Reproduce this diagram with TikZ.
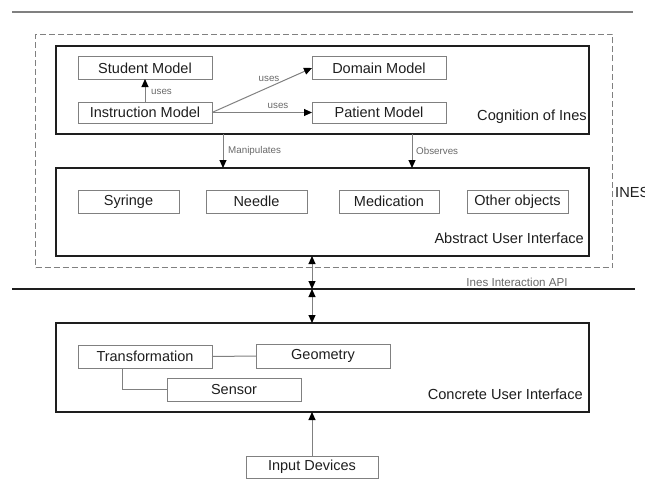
\documentclass[tikz,border=0pt]{standalone}
\usepackage{fontspec}
\setmainfont{Liberation Sans}
\usetikzlibrary{arrows.meta}
\definecolor{boxgray}{RGB}{128,128,128}
\definecolor{labgray}{RGB}{105,105,105}
\definecolor{ink}{RGB}{30,30,30}
\begin{document}
\begin{tikzpicture}[x=1pt,y=-1pt,
  inbox/.style={draw=boxgray, line width=1pt, inner sep=0pt, outer sep=0pt,
    minimum width=134pt, minimum height=22pt, text=ink,
    font=\fontsize{14.5}{16}\selectfont},
  outbox/.style={draw=ink, line width=1.4pt, inner sep=0pt, outer sep=0pt,
    minimum width=533pt, minimum height=88pt, anchor=north west},
  bigtext/.style={text=ink, inner sep=0pt, font=\fontsize{14.6}{16}\selectfont},
  lab/.style={text=labgray, inner sep=1pt, font=\fontsize{9.8}{11}\selectfont},
  arr/.style={draw=boxgray, line width=1pt, -{Triangle[length=8pt,width=7pt,color=black]}},
  darr/.style={draw=boxgray, line width=1pt, {Triangle[length=8pt,width=7pt,color=black]}-{Triangle[length=8pt,width=7pt,color=black]}},
  link/.style={draw=boxgray, line width=1pt}
]
\useasboundingbox (0,0) rectangle (645,495);

% horizontal rules
\coordinate (tl1) at (12,12);
\coordinate (tl2) at (633,12);
\draw[boxgray, line width=1.5pt] (tl1) -- (tl2);
\coordinate (al1) at (12,289);
\coordinate (al2) at (635,289);
\draw[ink, line width=2pt] (al1) -- (al2);

% dashed INES frame
\node[draw=boxgray, line width=1pt, dash pattern=on 6pt off 3pt, inner sep=0pt,
  minimum width=577pt, minimum height=233pt, anchor=north west] (ines) at (35,34) {};

% outer boxes
\node[outbox] (cog) at (56,46) {};
\node[outbox] (abs) at (56,168) {};
\node[outbox, minimum height=89pt] (conc) at (56,323) {};

% cognition
\node[inbox] (student) at (145,68) {Student Model};
\node[inbox, minimum height=21pt] (instr) at (145,112.5) {Instruction Model};
\node[inbox] (domain) at (379,68) {Domain Model};
\node[inbox, minimum height=21pt] (patient) at (379,112.5) {Patient Model};
\node[bigtext, anchor=east] (cogt) at (587,117) {Cognition of Ines};

\draw[arr] (instr.north) -- (student.south);
\draw[arr] (instr.east) -- (domain.west);
\draw[arr] (instr.east) -- (patient.west);
\node[lab, anchor=west] (u1) at (150,92) {uses};
\node[lab] (u2) at (269,79) {uses};
\node[lab] (u3) at (278,106) {uses};

% manipulates / observes
\coordinate (m1) at (223,134);
\coordinate (o1) at (412,134);
\draw[arr] (m1) -- (m1 |- abs.north);
\draw[arr] (o1) -- (o1 |- abs.north);
\node[lab, anchor=west] (ml) at (227,151) {Manipulates};
\node[lab, anchor=west] (ol) at (415,151) {Observes};

% abstract UI
\node[inbox, minimum width=101pt, minimum height=23pt] (syr) at (128.5,201.5) {Syringe};
\node[inbox, minimum width=101pt, minimum height=23pt] (need) at (256.5,201.5) {Needle};
\node[inbox, minimum width=100pt, minimum height=23pt] (med) at (389,201.5) {Medication};
\node[inbox, minimum width=101pt, minimum height=23pt] (oth) at (517.5,201.5) {Other objects};
\node[bigtext, anchor=east] (abst) at (584,238) {Abstract User Interface};
\node[bigtext, anchor=west] (inest) at (615,192) {INES};

% API arrows
\coordinate (a1) at (312,256);
\coordinate (a2) at (312,289);
\draw[darr] (a1) -- (a2);
\draw[darr] (a2) -- (a2 |- conc.north);
\node[text=labgray, inner sep=0pt, font=\fontsize{11.6}{13}\selectfont] (api) at (517,282) {Ines Interaction API};

% concrete UI
\node[inbox, minimum height=23pt] (trans) at (145,356.5) {Transformation};
\node[inbox, minimum height=24pt] (geom) at (323,356) {Geometry};
\node[inbox, minimum height=23pt] (sens) at (234,389.5) {Sensor};
\node[bigtext, anchor=east] (conct) at (583,394) {Concrete User Interface};
\draw[link] (trans.east) -- (geom.west);
\draw[link] ([xshift=-23pt]trans.south) |- (sens.west);

% input devices
\node[inbox, minimum width=132pt] (inp) at (312,467) {Input Devices};
\draw[arr] (inp.north) -- (inp.north |- conc.south);
\end{tikzpicture}
\end{document}
